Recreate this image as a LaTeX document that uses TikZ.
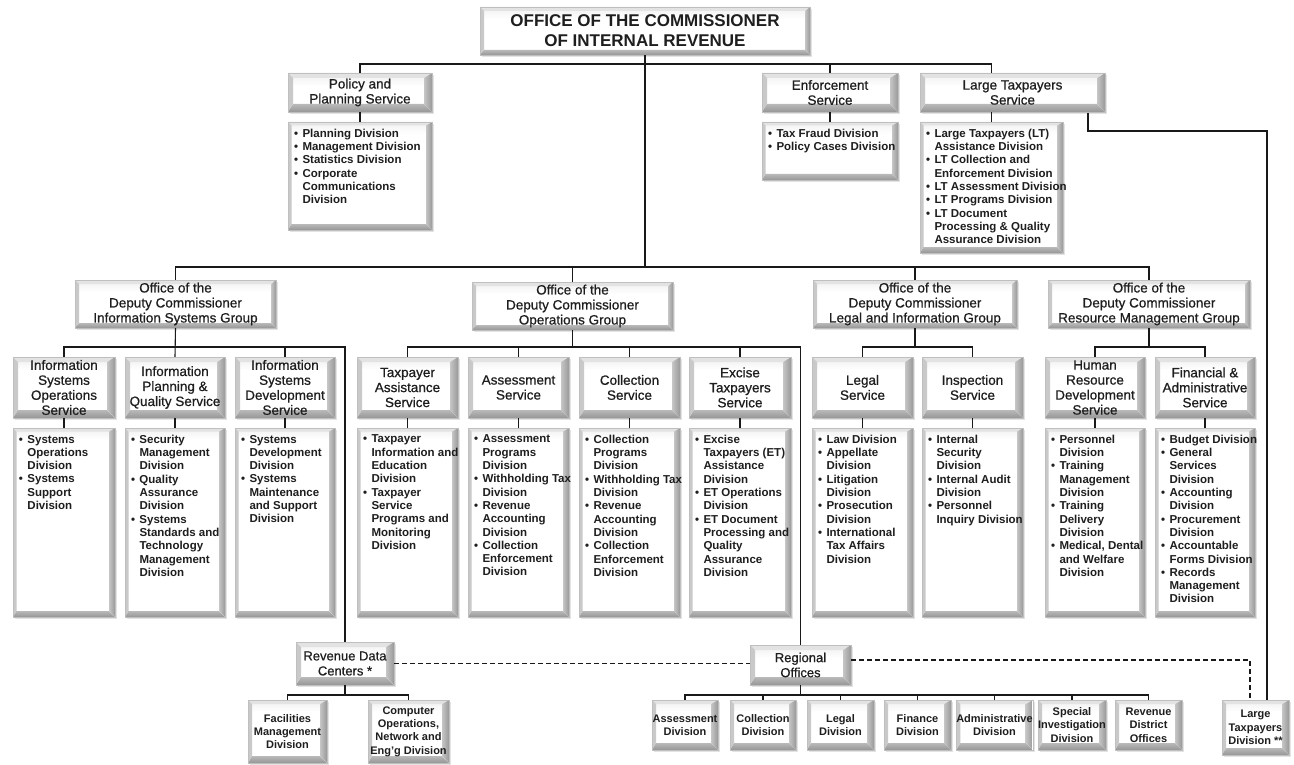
\documentclass[tikz,border=0pt]{standalone}
\usepackage{fontspec}
\setmainfont{Liberation Sans}
\newfontfamily\medfont[FakeBold=0.7]{Liberation Sans}
\usetikzlibrary{calc,shadows}
\definecolor{ink}{HTML}{1E1E1E}
\newcommand\Bul{\makebox[8.5pt][l]{\textbullet}}
\newcommand\Ind{\hspace*{8.5pt}}
\newcommand\bevelpic[2]{%
  \coordinate (@nw) at (path picture bounding box.north west);
  \coordinate (@ne) at (path picture bounding box.north east);
  \coordinate (@sw) at (path picture bounding box.south west);
  \coordinate (@se) at (path picture bounding box.south east);
  \fill[top color=gray!8, bottom color=white] ($(@nw)+(#1,-#1)$) rectangle ($(@ne)+(-#2,-#1-8pt)$);
  \fill[gray!22] (@nw) -- (@ne) -- ($(@ne)+(-#2,-#1)$) -- ($(@nw)+(#1,-#1)$) -- cycle;
  \fill[gray!42] (@nw) -- (@sw) -- ($(@sw)+(#1,#2)$) -- ($(@nw)+(#1,-#1)$) -- cycle;
  \fill[left color=gray!45, right color=gray!80] (@ne) -- (@se) -- ($(@se)+(-#2,#2)$) -- ($(@ne)+(-#2,-#1)$) -- cycle;
  \fill[top color=gray!55, bottom color=gray!82] (@sw) -- (@se) -- ($(@se)+(-#2,#2)$) -- ($(@sw)+(#1,#2)$) -- cycle;
}
\tikzset{
  bev/.style 2 args={path picture={\bevelpic{#1}{#2}}},
  basebox/.style={fill=white, draw=gray!50, line width=0.4pt, inner sep=0pt, align=center, text=ink,
    drop shadow={shadow xshift=2pt, shadow yshift=-2pt, opacity=0.22}},
  topbox/.style={basebox, bev={4pt}{5pt}, font=\bfseries\fontsize{17}{20}\selectfont},
  svcbox/.style={basebox, bev={5pt}{8pt}, font=\medfont\fontsize{13.5}{15}\selectfont},
  depbox/.style={basebox, bev={4pt}{5pt}, font=\medfont\fontsize{13.5}{15}\selectfont},
  listbox/.style={basebox, bev={3.5pt}{6pt}},
  divbox/.style={basebox, bev={4pt}{7pt}, font=\bfseries\fontsize{11}{13.3}\selectfont},
  ctrbox/.style={basebox, bev={5pt}{8pt}, font=\medfont\fontsize{13}{15}\selectfont},
  listtxt/.style={font=\bfseries\fontsize{11.5}{13.3}\selectfont, align=left, inner sep=0pt, text=ink},
  conn/.style={draw=black!90, line width=1.1pt},
  dconn/.style={conn, dashed, dash pattern=on 5pt off 3pt}
}
\newcommand\bx[7]{\node[#6, minimum width={(#4-#2)*1pt}, minimum height={(#5-#3)*1pt}] (#1) at ({(#2+#4)/2},{(#3+#5)/2}) {#7};}
\newcommand\lbx[6]{\bx{#1}{#2}{#3}{#4}{#5}{listbox}{}\node[listtxt, anchor=north west] (#1T) at ([shift={(6pt,-7pt)}]#1.north west) {#6};}
\begin{document}
\begin{tikzpicture}[x=1pt,y=-1pt]
\fill[white] (0,0) rectangle (1294,765);
\useasboundingbox (0,0) rectangle (1294,765);
% bus reference coordinates
\coordinate (busA) at (0,64);
\coordinate (busB) at (0,267);
\coordinate (busC) at (0,347);
\coordinate (busD) at (0,695);
\coordinate (ltstart) at (1088,113);
\coordinate (ltv) at (1267,131);
\coordinate (dv) at (1250,660);

% ---- top
\bx{top}{480}{7}{810}{55}{topbox}{OFFICE OF THE COMMISSIONER\\OF INTERNAL REVENUE}
\bx{pol}{288}{73}{432}{112}{svcbox}{Policy and\\Planning Service}
\bx{enf}{762}{73}{898}{112}{svcbox}{Enforcement\\Service}
\bx{lts}{920}{73}{1105}{112}{svcbox}{Large Taxpayers\\Service}
\lbx{poll}{288}{122}{432}{230}{\Bul Planning Division\\\Bul Management Division\\\Bul Statistics Division\\\Bul Corporate\\\Ind Communications\\\Ind Division}
\lbx{enfl}{762}{122}{898}{180}{\Bul Tax Fraud Division\\\Bul Policy Cases Division}
\lbx{ltl}{920}{122}{1063}{253}{\Bul Large Taxpayers (LT)\\\Ind Assistance Division\\\Bul LT Collection and\\\Ind Enforcement Division\\\Bul LT Assessment Division\\\Bul LT Programs Division\\\Bul LT Document\\\Ind Processing \& Quality\\\Ind Assurance Division}

% ---- deputy commissioners
\bx{isg}{75}{280}{276}{328}{depbox}{Office of the\\Deputy Commissioner\\Information Systems Group}
\bx{ops}{472}{282}{673}{330}{depbox}{Office of the\\Deputy Commissioner\\Operations Group}
\bx{lig}{813}{280}{1017}{328}{depbox}{Office of the\\Deputy Commissioner\\Legal and Information Group}
\bx{rmg}{1048}{280}{1250}{328}{depbox}{Office of the\\Deputy Commissioner\\Resource Management Group}

% ---- services
\bx{isops}{13}{357}{115}{418}{svcbox}{Information\\Systems\\Operations\\Service}
\bx{ipq}{125}{357}{225}{418}{svcbox}{Information\\Planning \&\\Quality Service}
\bx{isdev}{235}{357}{335}{418}{svcbox}{Information\\Systems\\Development\\Service}
\bx{tas}{357}{357}{458}{418}{svcbox}{Taxpayer\\Assistance\\Service}
\bx{ass}{468}{357}{569}{418}{svcbox}{Assessment\\Service}
\bx{col}{579}{357}{680}{418}{svcbox}{Collection\\Service}
\bx{exc}{689}{357}{791}{418}{svcbox}{Excise\\Taxpayers\\Service}
\bx{leg}{812}{357}{913}{418}{svcbox}{Legal\\Service}
\bx{ins}{922}{357}{1023}{418}{svcbox}{Inspection\\Service}
\bx{hrd}{1045}{357}{1145}{418}{svcbox}{Human\\Resource\\Development\\Service}
\bx{fas}{1155}{357}{1255}{418}{svcbox}{Financial \&\\Administrative\\Service}

% ---- lists
\lbx{isopsl}{13}{428}{115}{617}{\Bul Systems\\\Ind Operations\\\Ind Division\\\Bul Systems\\\Ind Support\\\Ind Division}
\lbx{ipql}{125}{428}{225}{617}{\Bul Security\\\Ind Management\\\Ind Division\\\Bul Quality\\\Ind Assurance\\\Ind Division\\\Bul Systems\\\Ind Standards and\\\Ind Technology\\\Ind Management\\\Ind Division}
\lbx{isdevl}{235}{428}{335}{617}{\Bul Systems\\\Ind Development\\\Ind Division\\\Bul Systems\\\Ind Maintenance\\\Ind and Support\\\Ind Division}
\lbx{tasl}{357}{428}{458}{617}{\Bul Taxpayer\\\Ind Information and\\\Ind Education\\\Ind Division\\\Bul Taxpayer\\\Ind Service\\\Ind Programs and\\\Ind Monitoring\\\Ind Division}
\lbx{assl}{468}{428}{569}{617}{\Bul Assessment\\\Ind Programs\\\Ind Division\\\Bul Withholding Tax\\\Ind Division\\\Bul Revenue\\\Ind Accounting\\\Ind Division\\\Bul Collection\\\Ind Enforcement\\\Ind Division}
\lbx{coll}{579}{428}{680}{617}{\Bul Collection\\\Ind Programs\\\Ind Division\\\Bul Withholding Tax\\\Ind Division\\\Bul Revenue\\\Ind Accounting\\\Ind Division\\\Bul Collection\\\Ind Enforcement\\\Ind Division}
\lbx{excl}{689}{428}{791}{617}{\Bul Excise\\\Ind Taxpayers (ET)\\\Ind Assistance\\\Ind Division\\\Bul ET Operations\\\Ind Division\\\Bul ET Document\\\Ind Processing and\\\Ind Quality\\\Ind Assurance\\\Ind Division}
\lbx{legl}{812}{428}{913}{617}{\Bul Law Division\\\Bul Appellate\\\Ind Division\\\Bul Litigation\\\Ind Division\\\Bul Prosecution\\\Ind Division\\\Bul International\\\Ind Tax Affairs\\\Ind Division}
\lbx{insl}{922}{428}{1023}{617}{\Bul Internal\\\Ind Security\\\Ind Division\\\Bul Internal Audit\\\Ind Division\\\Bul Personnel\\\Ind Inquiry Division}
\lbx{hrdl}{1045}{428}{1145}{617}{\Bul Personnel\\\Ind Division\\\Bul Training\\\Ind Management\\\Ind Division\\\Bul Training\\\Ind Delivery\\\Ind Division\\\Bul Medical, Dental\\\Ind and Welfare\\\Ind Division}
\lbx{fasl}{1155}{428}{1255}{617}{\Bul Budget Division\\\Bul General\\\Ind Services\\\Ind Division\\\Bul Accounting\\\Ind Division\\\Bul Procurement\\\Ind Division\\\Bul Accountable\\\Ind Forms Division\\\Bul Records\\\Ind Management\\\Ind Division}

% ---- bottom
\bx{rdc}{296}{642}{394}{685}{ctrbox}{Revenue Data\\Centers *}
\bx{ro}{750}{645}{851}{685}{ctrbox}{Regional\\Offices}
\bx{fac}{248}{700}{327}{763}{divbox}{Facilities\\Management\\Division}
\bx{cop}{368}{700}{449}{763}{divbox}{Computer\\Operations,\\Network and\\Eng'g Division}
\bx{rasd}{652}{700}{718}{750}{divbox}{Assessment\\Division}
\bx{rcol}{730}{700}{796}{750}{divbox}{Collection\\Division}
\bx{rleg}{807}{700}{874}{750}{divbox}{Legal\\Division}
\bx{rfin}{884}{700}{951}{750}{divbox}{Finance\\Division}
\bx{radm}{961}{700}{1028}{750}{divbox}{Administrative\\Division}
\bx{rsi}{1038}{700}{1106}{750}{divbox}{Special\\Investigation\\Division}
\bx{rrdo}{1115}{700}{1182}{750}{divbox}{Revenue\\District\\Offices}
\bx{ltd}{1222}{700}{1289}{755}{divbox}{Large\\Taxpayers\\Division **}

% ---- connectors
\path[conn] (pol.north) |- (busA -| ltl.north) -- (ltl.north |- lts.north);
\path[conn] (top.south) -- (top.south |- busB);
\path[conn] (enf.north) -- (enf.north |- busA);
\path[conn] (pol.south) -- (poll.north);
\path[conn] (enf.south) -- (enfl.north);
\path[conn] (lts.south -| ltl.north) -- (ltl.north);
\path[conn] (ltstart) |- (ltv) -- (ltv |- ltd.north);
% deputies
\path[conn] (isg.north) |- (busB -| rmg.north) -- (rmg.north);
\path[conn] (ops.north) -- (ops.north |- busB);
\path[conn] (lig.north) -- (lig.north |- busB);
% ISG services
\path[conn] (isops.north) |- (busC -| rdc.north) -- (rdc.north);
\path[conn] (isg.south) -- (ipq.north);
\path[conn] (isdev.north) -- (isdev.north |- busC);
% Ops services
\path[conn] (tas.north) |- (busC -| ro.north) -- (ro.north);
\path[conn] (ops.south) -- (ops.south |- busC);
\path[conn] (ass.north) -- (ass.north |- busC);
\path[conn] (col.north) -- (col.north |- busC);
\path[conn] (exc.north) -- (exc.north |- busC);
% LIG
\path[conn] (leg.north) |- (busC -| ins.north) -- (ins.north);
\path[conn] (lig.south) -- (lig.south |- busC);
% RMG
\path[conn] (hrd.north) |- (busC -| fas.north) -- (fas.north);
\path[conn] (rmg.south) -- (rmg.south |- busC);
% service to list
\foreach \s in {isops,ipq,isdev,tas,ass,col,exc,leg,ins,hrd,fas}{\path[conn] (\s.south) -- (\s l.north);}
% bottom
\path[conn] (fac.north) |- (busD -| cop.north) -- (cop.north);
\path[conn] (rdc.south) -- (rdc.south |- busD);
\path[conn] (rasd.north) |- (busD -| rrdo.north) -- (rrdo.north);
\path[conn] (ro.south) -- (ro.south |- busD);
\foreach \d in {rcol,rleg,rfin,radm,rsi}{\path[conn] (\d.north) -- (\d.north |- busD);}
\path[dconn] (rdc.east) -- (rdc.east -| ro.west);
\path[dconn] (ro.east |- dv) -- (dv) -- (dv |- ltd.north);
\end{tikzpicture}
\end{document}
